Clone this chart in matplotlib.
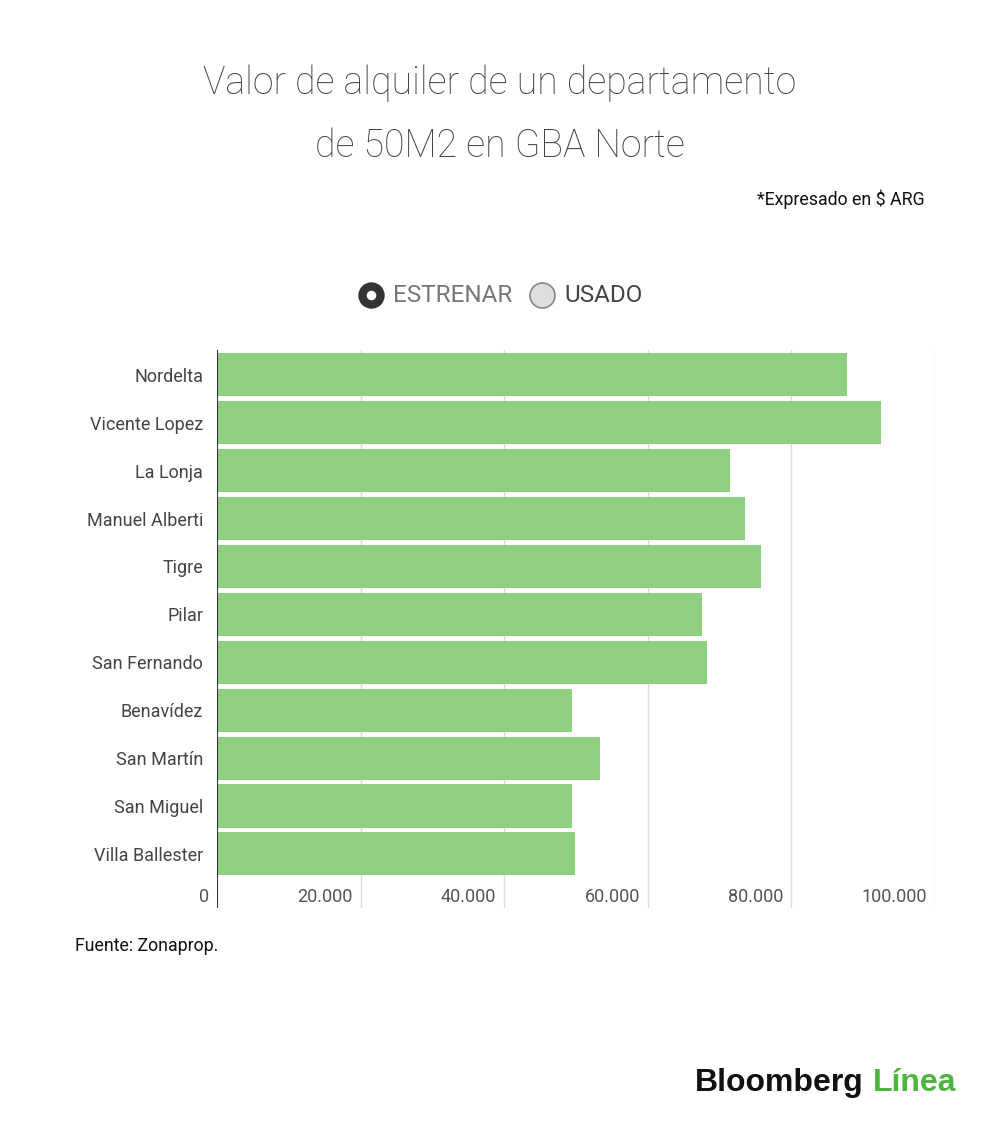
import numpy as np
import matplotlib.pyplot as plt
from matplotlib.lines import Line2D

plt.rcParams['font.family'] = ['Roboto', 'DejaVu Sans']

# data (rent in $ ARG, "a estrenar")
barrios = ["Nordelta", "Vicente Lopez", "La Lonja", "Manuel Alberti", "Tigre", "Pilar",
           "San Fernando", "Benavídez", "San Martín", "San Miguel", "Villa Ballester"]
estrenar = [87700, 92500, 71400, 73500, 75700, 67500, 68200, 49500, 53400, 49500, 49800]
ticks = [0, 20000, 40000, 60000, 80000, 100000]
tick_labels = ["0", "20.000", "40.000", "60.000", "80.000", "100.000"]

green = "#8fcf82"

fig = plt.figure(figsize=(10, 11.25), dpi=100)
ax = fig.add_axes([0.217, 1 - 908 / 1125, 0.935 - 0.217, (908 - 350) / 1125])

y = np.arange(len(barrios))
ax.barh(y, estrenar, height=0.9, color=green, zorder=2)
ax.set_xlim(0, 100000)
ax.set_ylim(11.13, -0.52)

# grid + zero line
for t in ticks[1:]:
    ax.axvline(t, color="#dddddd", lw=1, zorder=1)
ax.axvline(0, color="#333333", lw=1.5, zorder=3)

for s in ax.spines.values():
    s.set_visible(False)
ax.set_xticks([])
ax.set_yticks(y)
ax.set_yticklabels(barrios, fontsize=13, color="#444444")
ax.tick_params(axis="y", length=0, pad=10)

# tick labels sit inside the plot, to the left of each gridline
for t, lab in zip(ticks, tick_labels):
    ax.annotate(lab, xy=(t, 0), xycoords=("data", "axes fraction"),
                xytext=(-8, 11), textcoords="offset pixels",
                ha="right", va="center", fontsize=13, color="#555555")

# title and notes
fig.text(0.5, 1 - 83 / 1125, "Valor de alquiler de un departamento", ha="center", va="center",
         fontsize=27, color="#444444", fontweight="light")
fig.text(0.5, 1 - 146 / 1125, "de 50M2 en GBA Norte", ha="center", va="center",
         fontsize=27, color="#444444", fontweight="light")
fig.text(0.925, 1 - 199 / 1125, "*Expresado en $ ARG", ha="right", va="center",
         fontsize=12.8, color="#111111")
fig.text(0.075, 1 - 946 / 1125, "Fuente: Zonaprop.", ha="left", va="center",
         fontsize=12.8, color="#111111")

# legend as radio buttons
ly = 1 - 295 / 1125
fig.add_artist(Line2D([0.371], [ly], marker="o", markersize=13,
                      markerfacecolor="white", markeredgecolor="#333333",
                      markeredgewidth=6, transform=fig.transFigure))
fig.text(0.393, ly, "ESTRENAR", ha="left", va="center", fontsize=17.5, color="#777777")
fig.add_artist(Line2D([0.542], [ly], marker="o", markersize=18,
                      markerfacecolor="#dddddd", markeredgecolor="#888888",
                      markeredgewidth=1.2, transform=fig.transFigure))
fig.text(0.564, ly, "USADO", ha="left", va="center", fontsize=17.5, color="#444444")

# logo
fig.text(0.695, 1 - 1083 / 1125, "Bloomberg", ha="left", va="center",
         fontsize=23, fontweight="bold", color="#111111", family="Liberation Sans")
fig.text(0.873, 1 - 1083 / 1125, "Línea", ha="left", va="center",
         fontsize=23, fontweight="bold", color="#4cb43f", family="Liberation Sans")

fig.savefig("out.png", dpi=100)
